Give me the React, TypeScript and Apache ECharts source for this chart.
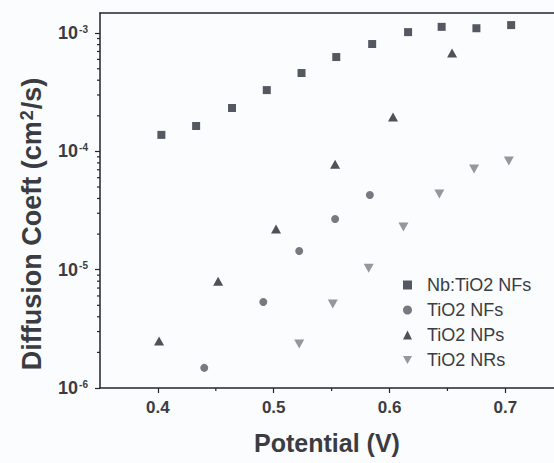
import React, { useEffect, useRef } from "react";
import * as echarts from "echarts";

const seriesNames = ["Nb:TiO2 NFs", "TiO2 NFs", "TiO2 NPs", "TiO2 NRs"];

const nbTiO2NFs: [number, number][] = [
  [0.403, 1.38e-4],
  [0.433, 1.64e-4],
  [0.464, 2.33e-4],
  [0.494, 3.3e-4],
  [0.524, 4.6e-4],
  [0.554, 6.28e-4],
  [0.585, 8.09e-4],
  [0.616, 1.02e-3],
  [0.645, 1.13e-3],
  [0.675, 1.1e-3],
  [0.705, 1.17e-3],
];

const tiO2NFs: [number, number][] = [
  [0.44, 1.48e-6],
  [0.491, 5.33e-6],
  [0.522, 1.44e-5],
  [0.553, 2.68e-5],
  [0.583, 4.28e-5],
];

const tiO2NPs: [number, number][] = [
  [0.401, 2.5e-6],
  [0.452, 8.0e-6],
  [0.502, 2.21e-5],
  [0.553, 7.8e-5],
  [0.603, 1.95e-4],
  [0.654, 6.8e-4],
];

const tiO2NRs: [number, number][] = [
  [0.522, 2.36e-6],
  [0.551, 5.13e-6],
  [0.582, 1.03e-5],
  [0.612, 2.3e-5],
  [0.643, 4.36e-5],
  [0.673, 7.1e-5],
  [0.703, 8.3e-5],
];

const xMin = 0.35;
const xMax = 0.742;
const yMin = 1e-6;
const yMax = 1.48e-3;

const yMinorTicks = [
  2e-6, 3e-6, 4e-6, 5e-6, 6e-6, 7e-6, 8e-6, 9e-6,
  2e-5, 3e-5, 4e-5, 5e-5, 6e-5, 7e-5, 8e-5, 9e-5,
  2e-4, 3e-4, 4e-4, 5e-4, 6e-4, 7e-4, 8e-4, 9e-4,
];
const xMinorTicks = [0.45, 0.55, 0.65];

const FONT = "'Liberation Sans', Arial, sans-serif";
const AXIS_COLOR = "#23252b";
const TEXT_COLOR = "#3a3c42";

export default function App() {
  const ref = useRef<HTMLDivElement>(null);

  useEffect(() => {
    if (!ref.current) return;
    const chart = echarts.init(ref.current, undefined, { renderer: "svg" });

    const minorData: number[][] = [
      ...yMinorTicks.map((v) => [xMin, v, 0]),
      ...xMinorTicks.map((v) => [v, yMin, 1]),
    ];

    chart.setOption({
      animation: false,
      backgroundColor: "#fbfcfd",
      textStyle: { fontFamily: FONT },
      grid: {
        left: 100,
        top: 13,
        right: 0,
        bottom: 75,
        show: false,
      },
      legend: {
        orient: "vertical",
        left: 398,
        top: 271,
        itemWidth: 9,
        itemHeight: 9,
        itemGap: 7,
        data: [
          { name: seriesNames[0], icon: "rect" },
          { name: seriesNames[1], icon: "circle" },
          { name: seriesNames[2], icon: "triangle" },
          { name: seriesNames[3], icon: "path://M0,0 L10,0 L5,9 Z" },
        ],
        textStyle: {
          fontFamily: FONT,
          fontSize: 18,
          color: TEXT_COLOR,
          padding: [0, 0, 0, 10],
        },
      },
      xAxis: [
        {
          type: "value",
          min: xMin,
          max: xMax,
          position: "bottom",
          name: "Potential (V)",
          nameLocation: "middle",
          nameGap: 42,
          nameTextStyle: {
            fontFamily: FONT,
            fontSize: 25,
            fontWeight: "bold",
            color: TEXT_COLOR,
          },
          axisLine: { show: true, lineStyle: { color: AXIS_COLOR, width: 1.5 } },
          axisTick: { show: true, length: 5, lineStyle: { color: AXIS_COLOR, width: 1.2 } },
          axisLabel: {
            margin: 11,
            fontSize: 17,
            fontWeight: "bold",
            color: TEXT_COLOR,
            showMinLabel: false,
            showMaxLabel: false,
            formatter: (v: number) => v.toFixed(1),
          },
          splitLine: { show: false },
        },
        {
          type: "value",
          min: xMin,
          max: xMax,
          position: "top",
          axisLine: { show: true, lineStyle: { color: AXIS_COLOR, width: 1.5 } },
          axisTick: { show: false },
          axisLabel: { show: false },
          splitLine: { show: false },
        },
      ],
      yAxis: {
        type: "log",
        logBase: 10,
        min: yMin,
        max: yMax,
        axisLine: { show: true, lineStyle: { color: AXIS_COLOR, width: 1.5 } },
        axisTick: { show: true, length: 5, lineStyle: { color: AXIS_COLOR, width: 1.2 } },
        axisLabel: {
          margin: 12,
          showMaxLabel: false,
          formatter: (v: number) => `{b|10}{s|${Math.round(Math.log10(v))}}`,
          rich: {
            b: { fontFamily: FONT, fontSize: 18, fontWeight: "bold", color: TEXT_COLOR },
            s: {
              fontFamily: FONT,
              fontSize: 10,
              fontWeight: "bold",
              color: TEXT_COLOR,
              verticalAlign: "top",
              padding: [0, 0, 8, 1],
            },
          },
        },
        splitLine: { show: false },
      },
      series: [
        {
          name: seriesNames[0],
          type: "scatter",
          symbol: "rect",
          symbolSize: 8,
          itemStyle: { color: "#2b2f3a" },
          data: nbTiO2NFs,
        },
        {
          name: seriesNames[1],
          type: "scatter",
          symbol: "circle",
          symbolSize: 8,
          itemStyle: { color: "#555960" },
          data: tiO2NFs,
        },
        {
          name: seriesNames[2],
          type: "scatter",
          symbol: "triangle",
          symbolSize: [10, 9],
          itemStyle: { color: "#23262e" },
          data: tiO2NPs,
        },
        {
          name: seriesNames[3],
          type: "scatter",
          symbol: "path://M0,0 L10,0 L5,9 Z",
          symbolSize: [10, 9],
          itemStyle: { color: "#7a7d84" },
          data: tiO2NRs,
        },
        {
          type: "custom",
          clip: false,
          silent: true,
          data: minorData,
          renderItem: (_params: any, api: any) => {
            const p = api.coord([api.value(0), api.value(1)]);
            const horiz = api.value(2) === 0;
            return {
              type: "line",
              shape: horiz
                ? { x1: p[0] - 3, y1: p[1], x2: p[0], y2: p[1] }
                : { x1: p[0], y1: p[1], x2: p[0], y2: p[1] + 3 },
              style: { stroke: AXIS_COLOR, lineWidth: 1.2 },
            };
          },
        },
      ],
      graphic: [
        {
          type: "text",
          x: 32,
          y: 224,
          rotation: Math.PI / 2,
          style: {
            text: "{t|Diffusion Coeft (cm}{s|2}{t|/s)}",
            align: "center",
            verticalAlign: "middle",
            rich: {
              t: { fontFamily: FONT, fontSize: 27, fontWeight: "bold", fill: TEXT_COLOR },
              s: {
                fontFamily: FONT,
                fontSize: 18,
                fontWeight: "bold",
                fill: TEXT_COLOR,
                verticalAlign: "top",
                padding: [0, 1, 10, 1],
              },
            },
          },
        },
      ],
    });

    return () => chart.dispose();
  }, []);

  return (
    <div
      ref={ref}
      style={{ position: "absolute", left: 0, top: 0, width: 554, height: 463 }}
    />
  );
}
